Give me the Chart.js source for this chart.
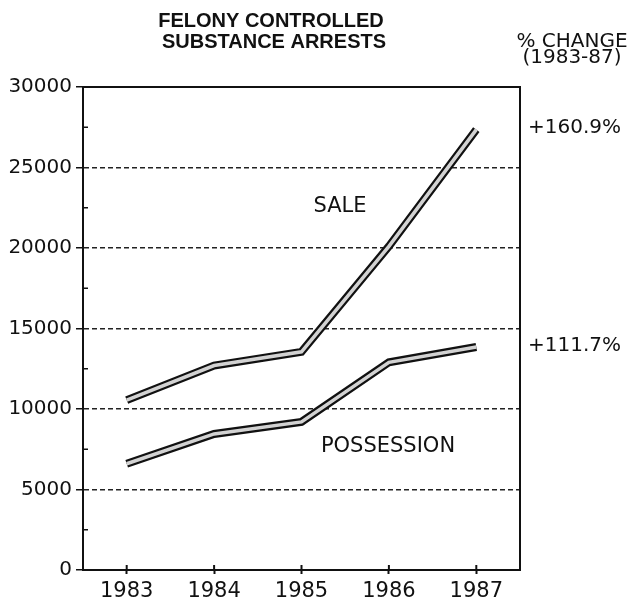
<!DOCTYPE html>
<html>
<head>
<meta charset="utf-8">
<script src="https://cdn.jsdelivr.net/npm/chart.js@4"></script>
<style>
  html, body { margin: 0; padding: 0; background: #fff; }
  canvas { display: block; }
</style>
</head>
<body>
<canvas id="chart" width="633" height="601"></canvas>
<script>
// Felony controlled substance arrests, 1983-87
const years = ["1983", "1984", "1985", "1986", "1987"];
const sale = [10550, 12700, 13550, 20100, 27350];
const possession = [6600, 8450, 9200, 12900, 13850];
const yTicks = [0, 5000, 10000, 15000, 20000, 25000, 30000];
const titleLines = ["FELONY CONTROLLED", "SUBSTANCE ARRESTS"];
const changeHeader = ["% CHANGE", "(1983-87)"];
const saleChange = "+160.9%";
const possessionChange = "+111.7%";

const FONT = "'DejaVu Sans', sans-serif";
const TITLE_FONT = "'Liberation Sans', Arial, sans-serif";
const INK = "#111";

// double-stroke look: a wide black line with a light core on top
const ribbon = (label, data) => [
  { label, data, borderColor: INK, borderWidth: 8, pointRadius: 0, tension: 0, order: 2 },
  { label, data, borderColor: "#d2d2d2", borderWidth: 3.5, pointRadius: 0, tension: 0, order: 1 },
];

const decorations = {
  id: "decorations",
  afterDraw(chart) {
    const { ctx, chartArea: a, scales } = chart;
    const y = scales.y, x = scales.x;
    ctx.save();

    // frame top and right
    ctx.strokeStyle = INK;
    ctx.lineWidth = 2;
    ctx.beginPath();
    ctx.moveTo(a.left, a.top);
    ctx.lineTo(a.right, a.top);
    ctx.lineTo(a.right, a.bottom);
    ctx.stroke();

    // minor ticks inside the left axis
    ctx.lineWidth = 1.5;
    for (let v = 2500; v < 30000; v += 5000) {
      const py = y.getPixelForValue(v);
      ctx.beginPath();
      ctx.moveTo(a.left, py);
      ctx.lineTo(a.left + 5, py);
      ctx.stroke();
    }
    // x ticks poke into the plot as well
    ctx.lineWidth = 2;
    years.forEach((_, i) => {
      const px = x.getPixelForTick(i);
      ctx.beginPath();
      ctx.moveTo(px, a.bottom);
      ctx.lineTo(px, a.bottom - 5);
      ctx.stroke();
    });

    ctx.fillStyle = INK;
    ctx.textAlign = "center";
    ctx.textBaseline = "alphabetic";
    ctx.font = `bold 20px ${TITLE_FONT}`;
    ctx.fillText(titleLines[0], 271, 27);
    ctx.fillText(titleLines[1], 274, 48);

    ctx.font = `20px ${FONT}`;
    ctx.fillText(changeHeader[0], 572, 47);
    ctx.fillText(changeHeader[1], 572, 63);

    ctx.textAlign = "left";
    ctx.fillText(saleChange, 528, 133);
    ctx.fillText(possessionChange, 528, 351);

    ctx.font = `21px ${FONT}`;
    ctx.textAlign = "center";
    ctx.fillText("SALE", 340, 212);
    ctx.fillText("POSSESSION", 388, 452);
    ctx.restore();
  },
};

new Chart(document.getElementById("chart"), {
  type: "line",
  data: {
    labels: years,
    datasets: [...ribbon("SALE", sale), ...ribbon("POSSESSION", possession)],
  },
  options: {
    responsive: false,
    animation: false,
    devicePixelRatio: 1,
    layout: { padding: { top: 87, right: 113, left: 0, bottom: 0 } },
    plugins: { legend: { display: false }, tooltip: { enabled: false } },
    elements: { line: { borderJoinStyle: "miter", borderCapStyle: "butt" } },
    scales: {
      x: {
        type: "category",
        offset: true,
        afterFit: (s) => { s.height = 31; },
        grid: {
          offset: false,
          drawOnChartArea: false,
          tickLength: 4,
          tickWidth: 2,
          tickColor: INK,
        },
        border: { color: INK, width: 2 },
        ticks: { color: INK, font: { family: FONT, size: 21 }, padding: 5, maxRotation: 0 },
      },
      y: {
        min: 0,
        max: 30000,
        afterFit: (s) => { s.width = 83; },
        afterBuildTicks: (s) => { s.ticks = yTicks.map((v) => ({ value: v })); },
        grid: {
          color: (c) => (c.tick && (c.tick.value === 0 || c.tick.value === 30000) ? "rgba(0,0,0,0)" : "#222"),
          lineWidth: 1.5,
          tickLength: 7,
          tickWidth: 1.5,
          tickColor: INK,
        },
        border: { color: INK, width: 2, dash: [5, 3] },
        ticks: {
          color: INK,
          font: { family: FONT, size: 20 },
          padding: 4,
          callback: (v) => String(v),
        },
      },
    },
  },
  plugins: [decorations],
});
</script>
</body>
</html>
